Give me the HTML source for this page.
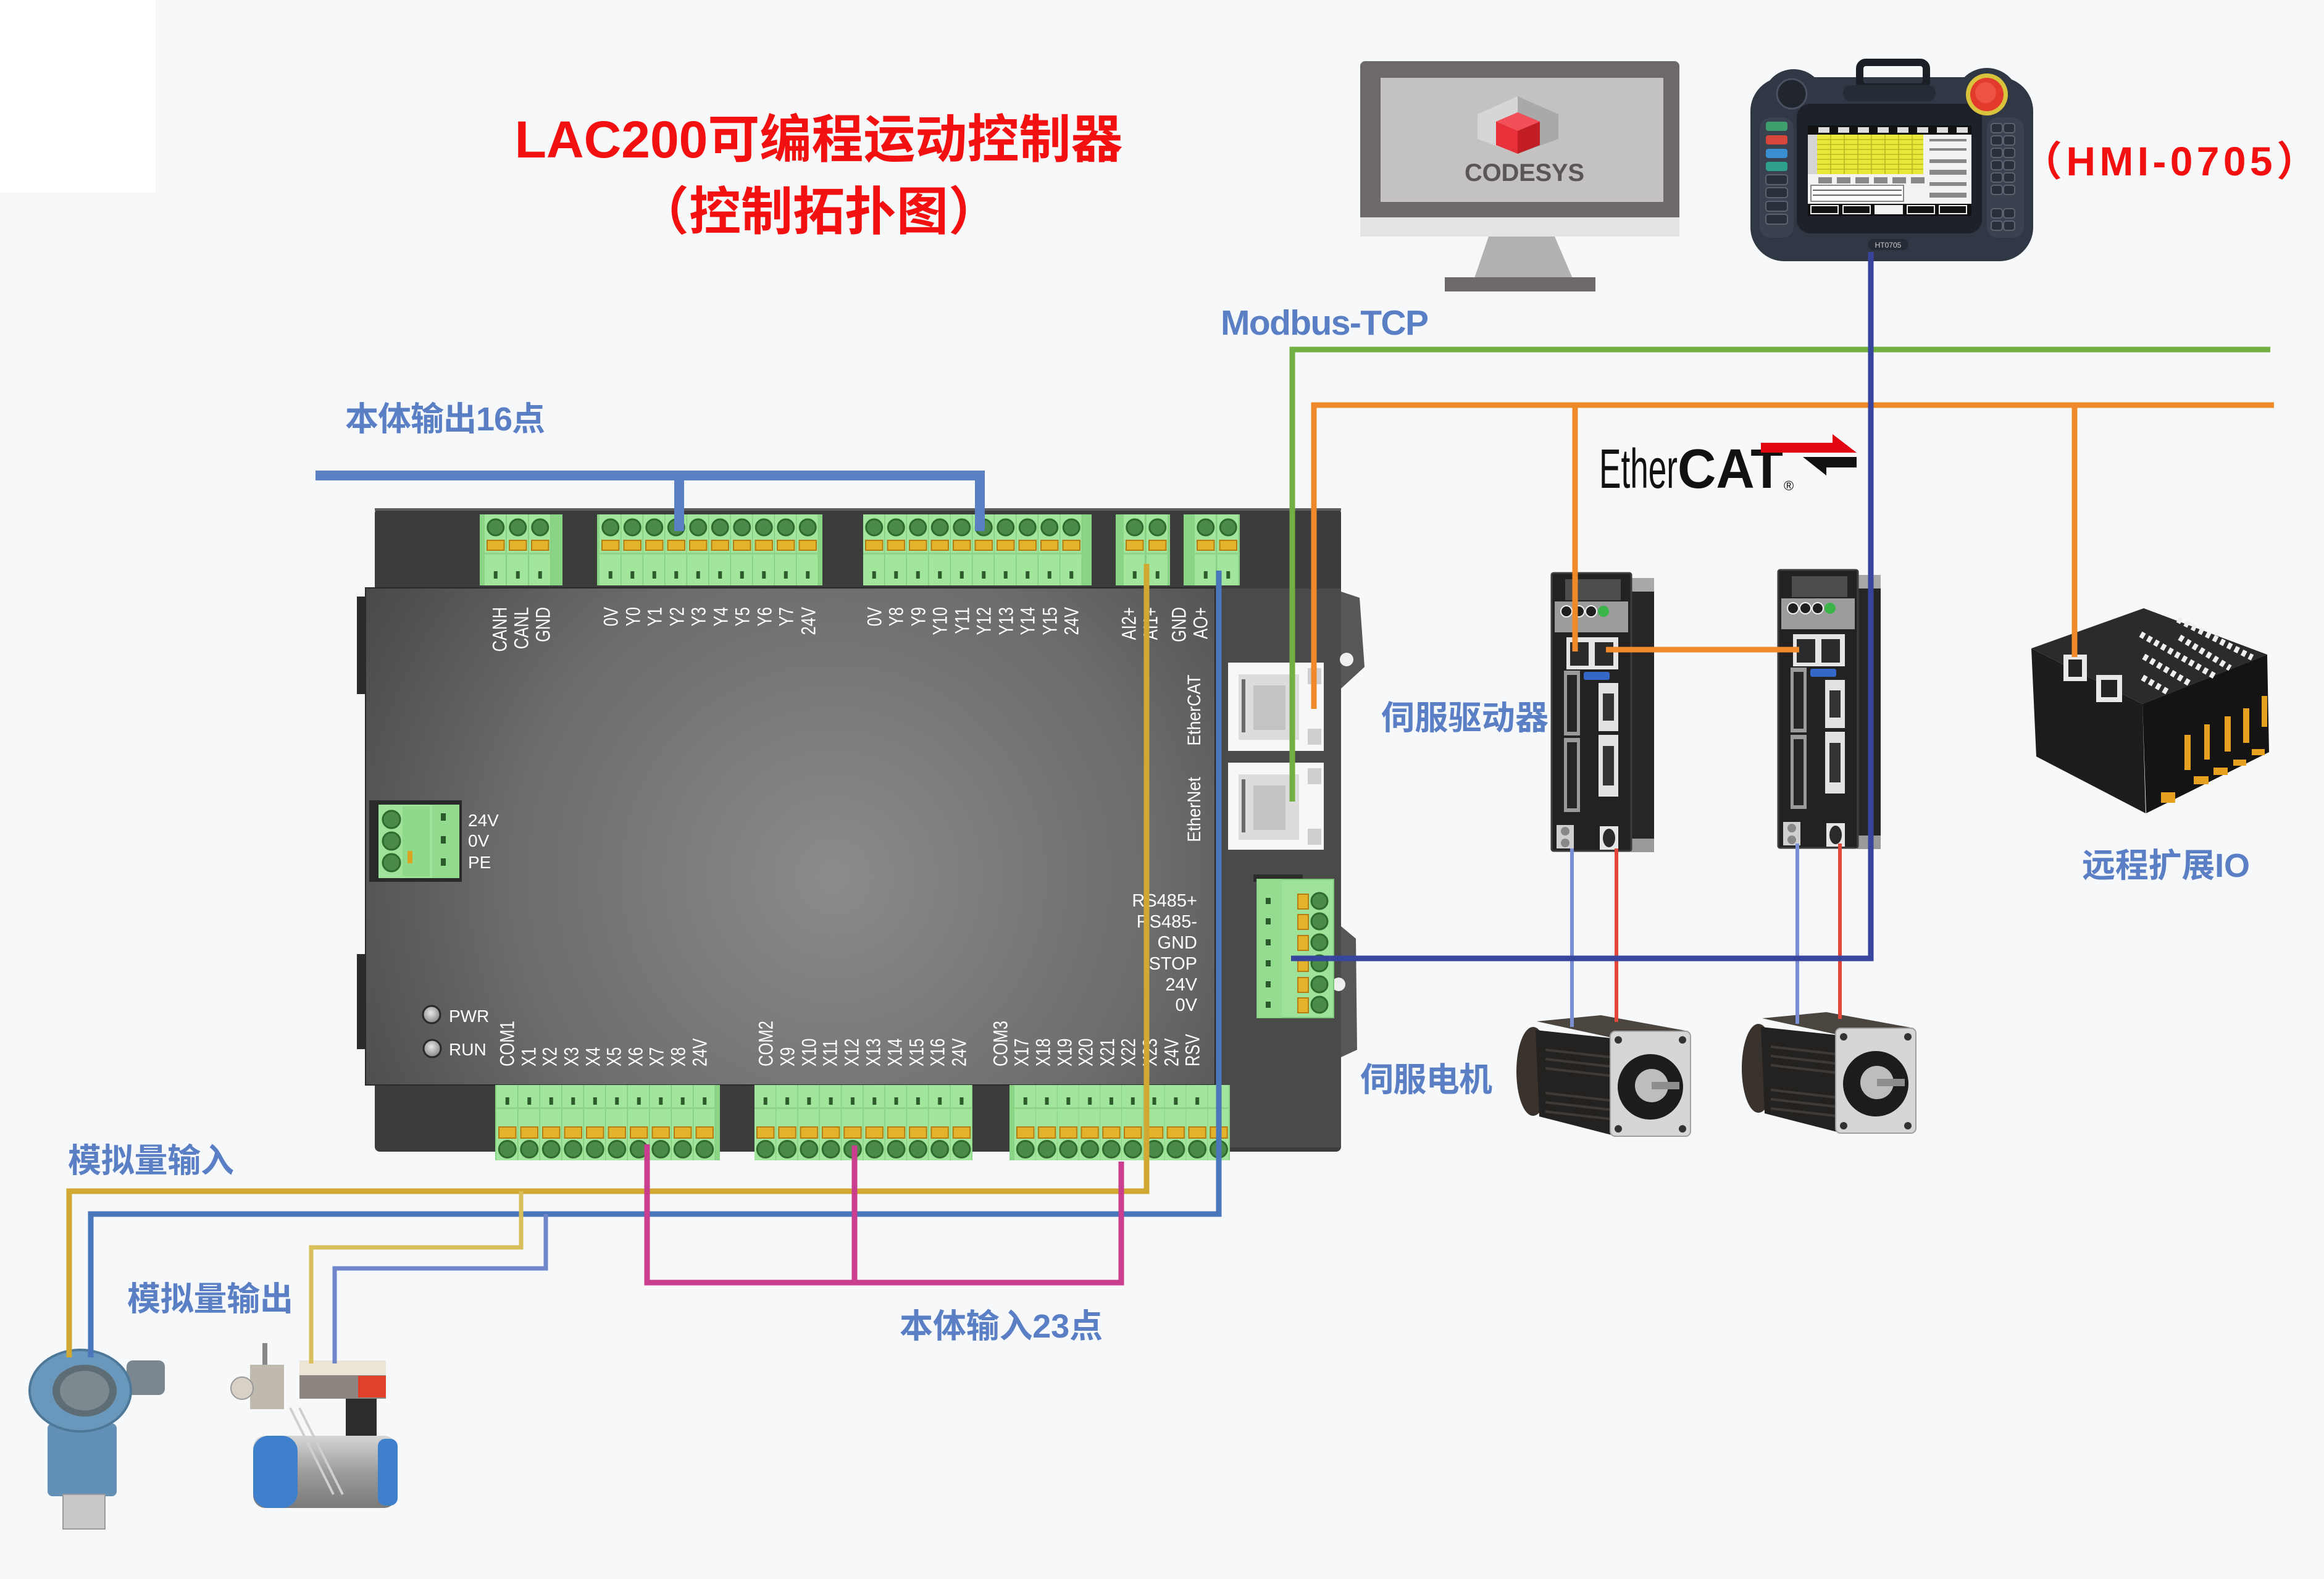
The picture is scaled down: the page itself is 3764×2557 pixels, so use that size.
<!DOCTYPE html>
<html><head><meta charset="utf-8"><style>
html,body{margin:0;padding:0;background:#f6f8fa;overflow:hidden}
svg{display:block}
text{font-family:"Liberation Sans","Noto Sans CJK SC",sans-serif}
</style></head><body>
<svg width="3764" height="2557" viewBox="0 0 3764 2557" xmlns="http://www.w3.org/2000/svg">
<defs>
<radialGradient id="fg" gradientUnits="userSpaceOnUse" cx="1350" cy="1420" r="950">
<stop offset="0" stop-color="#8b8b8b"/><stop offset="0.55" stop-color="#6c6c6c"/><stop offset="1" stop-color="#434343"/>
</radialGradient>
<radialGradient id="led" cx="0.45" cy="0.4" r="0.6"><stop offset="0" stop-color="#e8e8e8"/><stop offset="1" stop-color="#858585"/></radialGradient>
<linearGradient id="act" x1="0" y1="0" x2="0" y2="1"><stop offset="0" stop-color="#d6d6d6"/><stop offset="0.5" stop-color="#9c9c9c"/><stop offset="1" stop-color="#7a7a7a"/></linearGradient>
<g id="tileT">
<rect x="0" y="0" width="35.5" height="115" fill="#a2e59c"/>
<rect x="34" y="0" width="1.5" height="115" fill="#86cd80"/>
<circle cx="17.75" cy="21" r="13" fill="#4b8a48" stroke="#2f6a2e" stroke-width="3"/>
<rect x="4" y="42" width="27.5" height="16" fill="#e2b32b" stroke="#b57d12" stroke-width="2"/>
<rect x="0" y="62" width="35.5" height="3" fill="#8fd489"/>
<rect x="14.75" y="92" width="6" height="12" fill="#2d5b2c"/>
</g>
<g id="tileB">
<rect x="0" y="0" width="35.5" height="122" fill="#a2e59c"/>
<rect x="34" y="0" width="1.5" height="122" fill="#86cd80"/>
<rect x="14.75" y="20" width="6" height="12" fill="#2d5b2c"/>
<rect x="0" y="36" width="35.5" height="3" fill="#8fd489"/>
<rect x="4" y="68" width="27.5" height="18" fill="#e2b32b" stroke="#b57d12" stroke-width="2"/>
<circle cx="17.75" cy="104" r="13.5" fill="#4b8a48" stroke="#2f6a2e" stroke-width="3"/>
</g>
<pattern id="pCAN" patternUnits="userSpaceOnUse" x="785" y="833" width="36" height="115"><use href="#tileT"/></pattern>
<pattern id="pY0" patternUnits="userSpaceOnUse" x="971" y="833" width="35.5" height="115"><use href="#tileT"/></pattern>
<pattern id="pY8" patternUnits="userSpaceOnUse" x="1398" y="833" width="35.5" height="115"><use href="#tileT"/></pattern>
<pattern id="pAI" patternUnits="userSpaceOnUse" x="1820" y="833" width="37" height="115"><use href="#tileT"/></pattern>
<pattern id="pAO" patternUnits="userSpaceOnUse" x="1935" y="833" width="36.5" height="115"><use href="#tileT"/></pattern>
<pattern id="pB1" patternUnits="userSpaceOnUse" x="804" y="1757" width="35.5" height="122"><use href="#tileB"/></pattern>
<pattern id="pB2" patternUnits="userSpaceOnUse" x="1222" y="1757" width="35.3" height="122"><use href="#tileB"/></pattern>
<pattern id="pB3" patternUnits="userSpaceOnUse" x="1643" y="1757" width="34.8" height="122"><use href="#tileB"/></pattern>
<g id="drive">
<rect x="128" y="8" width="38" height="444" fill="#262626"/>
<rect x="128" y="8" width="38" height="22" fill="#a8a8a8"/>
<rect x="128" y="430" width="38" height="22" fill="#9a9a9a"/>
<rect x="0" y="0" width="129" height="450" rx="3" fill="#222" stroke="#3d3d3d" stroke-width="3"/>
<rect x="22" y="10" width="90" height="34" fill="#4d4d4d"/>
<rect x="5" y="46" width="119" height="50" fill="#9c9c9c"/>
<circle cx="24" cy="62" r="9" fill="#1f1f1f" stroke="#eee" stroke-width="2"/>
<circle cx="44" cy="62" r="9" fill="#1f1f1f" stroke="#eee" stroke-width="2"/>
<circle cx="64" cy="62" r="9" fill="#1f1f1f" stroke="#eee" stroke-width="2"/>
<circle cx="84" cy="62" r="9" fill="#3bb54a"/>
<rect x="24" y="104" width="84" height="52" fill="#e6e6e6"/>
<rect x="30" y="112" width="30" height="38" fill="#2b2b2b"/>
<rect x="70" y="112" width="30" height="38" fill="#2b2b2b"/>
<rect x="52" y="160" width="42" height="13" rx="3" fill="#3567c8"/>
<rect x="20" y="158" width="26" height="105" fill="#9a9a9a"/>
<rect x="25" y="165" width="16" height="92" fill="#262626"/>
<rect x="20" y="267" width="26" height="120" fill="#9a9a9a"/>
<rect x="25" y="274" width="16" height="107" fill="#262626"/>
<rect x="76" y="178" width="32" height="78" fill="#e2e2e2"/>
<rect x="83" y="195" width="18" height="44" fill="#333"/>
<rect x="76" y="262" width="32" height="100" fill="#e2e2e2"/>
<rect x="83" y="280" width="18" height="64" fill="#333"/>
<rect x="8" y="408" width="28" height="38" fill="#cfcfcf"/>
<circle cx="22" cy="418" r="7" fill="#888"/><circle cx="22" cy="437" r="7" fill="#888"/>
<rect x="78" y="410" width="30" height="38" fill="#e6e6e6"/>
<ellipse cx="93" cy="429" rx="10" ry="15" fill="#2a2a2a"/>
</g>
<g id="motor">
<ellipse cx="30" cy="95" rx="27" ry="72" fill="#3a332d"/>
<polygon points="36,14 140,4 282,30 165,42" fill="#4a453f"/>
<polygon points="34,28 165,42 165,200 40,168" fill="#242220"/>
<path d="M50,60 L155,72 M50,75 L155,87 M50,90 L155,102 M50,130 L155,142 M50,145 L155,157 M50,160 L155,172" stroke="#3e3a35" stroke-width="4"/>
<rect x="155" y="30" width="130" height="170" rx="8" fill="#d6d6d6" stroke="#a0a0a0" stroke-width="2"/>
<circle cx="220" cy="120" r="53" fill="#1c1c1c"/>
<circle cx="222" cy="118" r="27" fill="#bdbdbd"/>
<rect x="222" y="112" width="45" height="12" fill="#8d8d8d"/>
<circle cx="168" cy="44" r="6" fill="#333"/><circle cx="272" cy="44" r="6" fill="#333"/>
<circle cx="168" cy="188" r="6" fill="#333"/><circle cx="272" cy="188" r="6" fill="#333"/>
</g>
</defs>

<rect x="0" y="0" width="3764" height="2557" fill="#f6f8fa"/>
<rect x="0" y="0" width="252" height="312" fill="#ffffff"/>

<!-- Title -->
<text x="1326" y="255" text-anchor="middle" font-size="84" font-weight="700" fill="#f21010">LAC200可编程运动控制器</text>
<text x="1326" y="372" text-anchor="middle" font-size="84" font-weight="700" fill="#f21010">（控制拓扑图）</text>

<!-- Monitor -->
<rect x="2203" y="99" width="517" height="270" rx="8" fill="#6d6968"/>
<rect x="2203" y="352" width="517" height="31" fill="#e4e4e4"/>
<rect x="2236" y="126" width="458" height="201" fill="#c4c2c1"/>
<polygon points="2411,383 2518,383 2548,453 2387,453" fill="#b3b1b0"/>
<rect x="2340" y="449" width="244" height="23" fill="#6e6a69"/>
<polygon points="2458,156 2524,185 2524,225 2458,249" fill="#a9a9a9"/>
<polygon points="2458,156 2393,185 2393,225 2458,249" fill="#d6d6d6"/>
<polygon points="2458,182 2494,197 2494,235 2458,249" fill="#c21d25"/>
<polygon points="2458,182 2423,197 2423,235 2458,249" fill="#e8303a"/>
<polygon points="2458,182 2494,197 2458,212 2423,197" fill="#f25058"/>
<text x="2372" y="293" font-size="40" font-weight="700" fill="#5a5656" textLength="194">CODESYS</text>

<!-- HMI -->
<circle cx="2905" cy="162" r="50" fill="#303745"/>
<circle cx="3218" cy="162" r="52" fill="#303745"/>
<rect x="2835" y="125" width="458" height="298" rx="55" fill="#303745"/>
<rect x="3012" y="101" width="108" height="40" rx="10" fill="none" stroke="#1b1f26" stroke-width="12"/>
<rect x="2850" y="190" width="55" height="195" rx="18" fill="#3a4250"/>
<rect x="3218" y="190" width="60" height="195" rx="18" fill="#3a4250"/>
<rect x="2985" y="138" width="150" height="26" rx="13" fill="#262c36"/>
<rect x="2910" y="168" width="300" height="210" rx="22" fill="#1d2129"/>
<rect x="2928" y="203" width="265" height="147" fill="#f2f2f2"/>
<rect x="2928" y="203" width="265" height="15" fill="#111"/>
<g fill="#ddd"><rect x="2945" y="206" width="18" height="9"/><rect x="2977" y="206" width="18" height="9"/><rect x="3009" y="206" width="18" height="9"/><rect x="3041" y="206" width="18" height="9"/><rect x="3073" y="206" width="18" height="9"/><rect x="3105" y="206" width="18" height="9"/><rect x="3137" y="206" width="18" height="9"/><rect x="3169" y="206" width="18" height="9"/></g>
<rect x="2943" y="218" width="172" height="64" fill="#e7e838"/>
<path d="M2943,226 H3115 M2943,234 H3115 M2943,242 H3115 M2943,250 H3115 M2943,258 H3115 M2943,266 H3115 M2943,274 H3115 M2965,218 V282 M2987,218 V282 M3009,218 V282 M3031,218 V282 M3053,218 V282 M3075,218 V282 M3097,218 V282" stroke="#b8b820" stroke-width="1.5"/>
<rect x="2928" y="218" width="15" height="64" fill="#d5d5d5"/>
<g fill="#888"><rect x="2945" y="287" width="22" height="10"/><rect x="2975" y="287" width="22" height="10"/><rect x="3005" y="287" width="22" height="10"/><rect x="3035" y="287" width="22" height="10"/><rect x="3065" y="287" width="22" height="10"/><rect x="3095" y="287" width="22" height="10"/>
<rect x="3125" y="225" width="60" height="4"/><rect x="3125" y="240" width="60" height="4"/><rect x="3125" y="258" width="60" height="6"/><rect x="3125" y="275" width="60" height="8"/><rect x="3125" y="295" width="60" height="6"/><rect x="3125" y="312" width="60" height="8"/></g>
<rect x="2933" y="300" width="150" height="26" fill="#fff" stroke="#888" stroke-width="2"/>
<path d="M2936,308 H3080 M2936,316 H3080" stroke="#666" stroke-width="2"/>
<rect x="2928" y="330" width="265" height="20" fill="#111"/>
<g fill="#111" stroke="#eee" stroke-width="2"><rect x="2933" y="333" width="44" height="13"/><rect x="2985" y="333" width="44" height="13"/><rect x="3037" y="333" width="44" height="13" fill="#f2f2f2"/><rect x="3089" y="333" width="44" height="13"/><rect x="3141" y="333" width="44" height="13"/></g>
<circle cx="2902" cy="152" r="24" fill="#20252e" stroke="#4a5160" stroke-width="3"/>
<circle cx="3218" cy="153" r="34" fill="#d9c23c"/>
<circle cx="3218" cy="153" r="27" fill="#e23a2c"/>
<circle cx="3216" cy="150" r="17" fill="#ee5242"/>
<rect x="2860" y="197" width="35" height="15" rx="4" fill="#3f9e6e"/>
<rect x="2860" y="219" width="35" height="15" rx="4" fill="#d8473d"/>
<rect x="2860" y="241" width="35" height="15" rx="4" fill="#3b8fd0"/>
<rect x="2860" y="262" width="35" height="15" rx="4" fill="#2f9f8e"/>
<g fill="#2a303b" stroke="#5a6270" stroke-width="2">
<rect x="2860" y="283" width="35" height="16" rx="4"/><rect x="2860" y="304" width="35" height="16" rx="4"/><rect x="2860" y="326" width="35" height="16" rx="4"/><rect x="2860" y="347" width="35" height="16" rx="4"/>
<rect x="3225" y="200" width="18" height="15" rx="4"/><rect x="3245" y="200" width="18" height="15" rx="4"/>
<rect x="3225" y="220" width="18" height="15" rx="4"/><rect x="3245" y="220" width="18" height="15" rx="4"/>
<rect x="3225" y="240" width="18" height="15" rx="4"/><rect x="3245" y="240" width="18" height="15" rx="4"/>
<rect x="3225" y="260" width="18" height="15" rx="4"/><rect x="3245" y="260" width="18" height="15" rx="4"/>
<rect x="3225" y="280" width="18" height="15" rx="4"/><rect x="3245" y="280" width="18" height="15" rx="4"/>
<rect x="3225" y="300" width="18" height="15" rx="4"/><rect x="3245" y="300" width="18" height="15" rx="4"/>
<rect x="3225" y="338" width="18" height="15" rx="4"/><rect x="3245" y="338" width="18" height="15" rx="4"/>
<rect x="3225" y="358" width="18" height="15" rx="4"/><rect x="3245" y="358" width="18" height="15" rx="4"/>
</g>
<rect x="3025" y="387" width="66" height="18" rx="9" fill="#262c36"/>
<text x="3058" y="401" text-anchor="middle" font-size="12" fill="#cccccc">HT0705</text>
<text x="3274" y="284" font-size="66" font-weight="700" fill="#f21010" textLength="479">（HMI-0705）</text>

<!-- EtherCAT logo -->
<text x="2590" y="790" font-size="90" fill="#111" textLength="127" lengthAdjust="spacingAndGlyphs">Ether</text>
<text x="2717" y="790" font-size="90" font-weight="700" fill="#111" textLength="171" lengthAdjust="spacingAndGlyphs">CAT</text>
<text x="2889" y="794" font-size="22" fill="#111">®</text>
<polygon points="2852,717 2968,717 2968,703 3007,733 2852,733" fill="#e20613"/>
<polygon points="2920,740 3007,740 3007,757 2958,757 2958,770" fill="#111"/>

<!-- Controller -->
<rect x="607" y="823" width="1565" height="1042" rx="8" fill="#3c3c3c"/>
<rect x="607" y="823" width="1565" height="4" fill="#5d5d5d"/>
<rect x="1968" y="953" width="204" height="905" fill="#4a4a4a"/>
<polygon points="2172,958 2202,968 2210,1080 2172,1115" fill="#575757"/>
<circle cx="2181" cy="1068" r="11" fill="#f0f0f0"/>
<polygon points="2172,1500 2196,1520 2198,1700 2172,1712" fill="#575757"/>
<circle cx="2168" cy="1594" r="11" fill="#eeeeee"/>
<rect x="578" y="966" width="16" height="158" fill="#2c2c2c"/>
<rect x="578" y="1545" width="16" height="154" fill="#2c2c2c"/>
<rect x="592" y="952" width="1376" height="805" fill="url(#fg)" stroke="#2a2a2a" stroke-width="2"/>

<!-- top terminals -->
<rect x="777" y="833" width="134" height="115" fill="#8ad485"/>
<rect x="785" y="833" width="108" height="115" fill="url(#pCAN)"/>
<rect x="967" y="833" width="365" height="115" fill="#8ad485"/>
<rect x="971" y="833" width="355" height="115" fill="url(#pY0)"/>
<rect x="1398" y="833" width="370" height="115" fill="#8ad485"/>
<rect x="1398" y="833" width="355" height="115" fill="url(#pY8)"/>
<rect x="1807" y="833" width="88" height="115" fill="#8ad485"/>
<rect x="1820" y="833" width="74" height="115" fill="url(#pAI)"/>
<rect x="1917" y="833" width="91" height="115" fill="#8ad485"/>
<rect x="1935" y="833" width="73" height="115" fill="url(#pAO)"/>

<!-- bottom terminals -->
<rect x="802" y="1757" width="364" height="122" fill="#8ad485"/>
<rect x="804" y="1757" width="355" height="122" fill="url(#pB1)"/>
<rect x="1222" y="1757" width="353" height="122" fill="#8ad485"/>
<rect x="1222" y="1757" width="353" height="122" fill="url(#pB2)"/>
<rect x="1635" y="1757" width="357" height="122" fill="#8ad485"/>
<rect x="1643" y="1757" width="348" height="122" fill="url(#pB3)"/>

<!-- power terminal -->
<rect x="598" y="1296" width="150" height="132" fill="#2a2a2a"/>
<rect x="613" y="1303" width="131" height="119" fill="#9fe39a"/>
<rect x="652" y="1306" width="44" height="113" fill="#8fd98a"/>
<rect x="700" y="1303" width="44" height="119" fill="#92da8d"/>
<g fill="#4b8a48" stroke="#2f6a2e" stroke-width="3"><circle cx="634" cy="1327" r="14"/><circle cx="634" cy="1362" r="14"/><circle cx="634" cy="1397" r="14"/></g>
<g fill="#2d5a2d"><rect x="714" y="1317" width="8" height="12"/><rect x="714" y="1354" width="8" height="12"/><rect x="714" y="1390" width="8" height="12"/></g>
<rect x="660" y="1378" width="8" height="20" fill="#d9a520"/>

<!-- ports -->
<rect x="1989" y="1073" width="155" height="143" fill="#f7f7f7"/>
<rect x="2006" y="1092" width="98" height="106" fill="#dcdcdc"/>
<rect x="2030" y="1110" width="52" height="72" fill="#c3c3c3"/>
<rect x="2011" y="1100" width="6" height="86" fill="#6a6a6a"/>
<rect x="2118" y="1082" width="22" height="26" fill="#cfcfcf"/>
<rect x="2118" y="1180" width="22" height="26" fill="#cfcfcf"/>
<rect x="1989" y="1235" width="155" height="141" fill="#f7f7f7"/>
<rect x="2006" y="1254" width="98" height="106" fill="#dcdcdc"/>
<rect x="2030" y="1272" width="52" height="72" fill="#c3c3c3"/>
<rect x="2011" y="1262" width="6" height="86" fill="#6a6a6a"/>
<rect x="2118" y="1244" width="22" height="26" fill="#cfcfcf"/>
<rect x="2118" y="1342" width="22" height="26" fill="#cfcfcf"/>

<!-- RS485 terminal -->
<rect x="2030" y="1416" width="80" height="12" fill="#2c2c2c"/>
<rect x="2036" y="1424" width="124" height="224" fill="#9fe39a" stroke="#7cc778" stroke-width="2"/>
<rect x="2036" y="1424" width="40" height="224" fill="#94dc8f"/>
<g fill="#2d5a2d"><rect x="2050" y="1454" width="8" height="10"/><rect x="2050" y="1487" width="8" height="10"/><rect x="2050" y="1521" width="8" height="10"/><rect x="2050" y="1555" width="8" height="10"/><rect x="2050" y="1589" width="8" height="10"/><rect x="2050" y="1622" width="8" height="10"/></g>
<g fill="#e2b32b" stroke="#b57d12" stroke-width="2"><rect x="2102" y="1448" width="17" height="24"/><rect x="2102" y="1481" width="17" height="24"/><rect x="2102" y="1515" width="17" height="24"/><rect x="2102" y="1549" width="17" height="24"/><rect x="2102" y="1583" width="17" height="24"/><rect x="2102" y="1616" width="17" height="24"/></g>
<g fill="#4b8a48" stroke="#2f6a2e" stroke-width="3"><circle cx="2137" cy="1459" r="13"/><circle cx="2137" cy="1492" r="13"/><circle cx="2137" cy="1526" r="13"/><circle cx="2137" cy="1560" r="13"/><circle cx="2137" cy="1594" r="13"/><circle cx="2137" cy="1627" r="13"/></g>

<!-- LEDs -->
<circle cx="699" cy="1643" r="14" fill="url(#led)" stroke="#2a2a2a" stroke-width="3"/>
<circle cx="700" cy="1698" r="14" fill="url(#led)" stroke="#2a2a2a" stroke-width="3"/>

<!-- controller labels -->
<g fill="#ffffff" font-size="28">
<text x="758" y="1338">24V</text>
<text x="758" y="1371">0V</text>
<text x="758" y="1406">PE</text>
<text x="727" y="1655">PWR</text>
<text x="727" y="1709">RUN</text>
</g>
<g fill="#ffffff" font-size="29" text-anchor="end">
<text x="1939" y="1468">RS485+</text>
<text x="1939" y="1502">RS485-</text>
<text x="1939" y="1536">GND</text>
<text x="1939" y="1570">STOP</text>
<text x="1939" y="1604">24V</text>
<text x="1939" y="1637">0V</text>
</g>
<g fill="#ffffff" font-size="30" text-anchor="middle">
<text transform="translate(1944,1150) rotate(-90) scale(0.89,1)">EtherCAT</text>
<text transform="translate(1944,1311) rotate(-90) scale(0.89,1)">EtherNet</text>
</g>
<g fill="#ffffff" font-size="32" text-anchor="end">
<text transform="translate(820.5,983) rotate(-90) scale(0.8,1)">CANH</text>
<text transform="translate(855.5,983) rotate(-90) scale(0.8,1)">CANL</text>
<text transform="translate(890.5,983) rotate(-90) scale(0.8,1)">GND</text>
<text transform="translate(1000.5,983) rotate(-90) scale(0.8,1)">0V</text>
<text transform="translate(1036.5,983) rotate(-90) scale(0.8,1)">Y0</text>
<text transform="translate(1071.5,983) rotate(-90) scale(0.8,1)">Y1</text>
<text transform="translate(1107.5,983) rotate(-90) scale(0.8,1)">Y2</text>
<text transform="translate(1142.5,983) rotate(-90) scale(0.8,1)">Y3</text>
<text transform="translate(1178.5,983) rotate(-90) scale(0.8,1)">Y4</text>
<text transform="translate(1213.5,983) rotate(-90) scale(0.8,1)">Y5</text>
<text transform="translate(1249.5,983) rotate(-90) scale(0.8,1)">Y6</text>
<text transform="translate(1284.5,983) rotate(-90) scale(0.8,1)">Y7</text>
<text transform="translate(1320.5,983) rotate(-90) scale(0.8,1)">24V</text>
<text transform="translate(1427.5,983) rotate(-90) scale(0.8,1)">0V</text>
<text transform="translate(1462.5,983) rotate(-90) scale(0.8,1)">Y8</text>
<text transform="translate(1498.5,983) rotate(-90) scale(0.8,1)">Y9</text>
<text transform="translate(1533.5,983) rotate(-90) scale(0.8,1)">Y10</text>
<text transform="translate(1569.5,983) rotate(-90) scale(0.8,1)">Y11</text>
<text transform="translate(1604.5,983) rotate(-90) scale(0.8,1)">Y12</text>
<text transform="translate(1640.5,983) rotate(-90) scale(0.8,1)">Y13</text>
<text transform="translate(1675.5,983) rotate(-90) scale(0.8,1)">Y14</text>
<text transform="translate(1711.5,983) rotate(-90) scale(0.8,1)">Y15</text>
<text transform="translate(1746.5,983) rotate(-90) scale(0.8,1)">24V</text>
<text transform="translate(1839.5,983) rotate(-90) scale(0.8,1)">AI2+</text>
<text transform="translate(1874.5,983) rotate(-90) scale(0.8,1)">AI1+</text>
<text transform="translate(1920.5,983) rotate(-90) scale(0.8,1)">GND</text>
<text transform="translate(1955.5,983) rotate(-90) scale(0.8,1)">AO+</text>
</g>
<g fill="#ffffff" font-size="32" text-anchor="start">
<text transform="translate(832.5,1727) rotate(-90) scale(0.8,1)">COM1</text>
<text transform="translate(867.5,1727) rotate(-90) scale(0.8,1)">X1</text>
<text transform="translate(901.5,1727) rotate(-90) scale(0.8,1)">X2</text>
<text transform="translate(936.5,1727) rotate(-90) scale(0.8,1)">X3</text>
<text transform="translate(971.5,1727) rotate(-90) scale(0.8,1)">X4</text>
<text transform="translate(1005.5,1727) rotate(-90) scale(0.8,1)">X5</text>
<text transform="translate(1040.5,1727) rotate(-90) scale(0.8,1)">X6</text>
<text transform="translate(1074.5,1727) rotate(-90) scale(0.8,1)">X7</text>
<text transform="translate(1109.5,1727) rotate(-90) scale(0.8,1)">X8</text>
<text transform="translate(1144.5,1727) rotate(-90) scale(0.8,1)">24V</text>
<text transform="translate(1251.5,1727) rotate(-90) scale(0.8,1)">COM2</text>
<text transform="translate(1286.5,1727) rotate(-90) scale(0.8,1)">X9</text>
<text transform="translate(1321.5,1727) rotate(-90) scale(0.8,1)">X10</text>
<text transform="translate(1355.5,1727) rotate(-90) scale(0.8,1)">X11</text>
<text transform="translate(1390.5,1727) rotate(-90) scale(0.8,1)">X12</text>
<text transform="translate(1425.5,1727) rotate(-90) scale(0.8,1)">X13</text>
<text transform="translate(1460.5,1727) rotate(-90) scale(0.8,1)">X14</text>
<text transform="translate(1495.5,1727) rotate(-90) scale(0.8,1)">X15</text>
<text transform="translate(1529.5,1727) rotate(-90) scale(0.8,1)">X16</text>
<text transform="translate(1564.5,1727) rotate(-90) scale(0.8,1)">24V</text>
<text transform="translate(1631.5,1727) rotate(-90) scale(0.8,1)">COM3</text>
<text transform="translate(1665.5,1727) rotate(-90) scale(0.8,1)">X17</text>
<text transform="translate(1700.5,1727) rotate(-90) scale(0.8,1)">X18</text>
<text transform="translate(1735.5,1727) rotate(-90) scale(0.8,1)">X19</text>
<text transform="translate(1769.5,1727) rotate(-90) scale(0.8,1)">X20</text>
<text transform="translate(1804.5,1727) rotate(-90) scale(0.8,1)">X21</text>
<text transform="translate(1838.5,1727) rotate(-90) scale(0.8,1)">X22</text>
<text transform="translate(1873.5,1727) rotate(-90) scale(0.8,1)">X23</text>
<text transform="translate(1908.5,1727) rotate(-90) scale(0.8,1)">24V</text>
<text transform="translate(1942.5,1727) rotate(-90) scale(0.8,1)">RSV</text>
</g>

<!-- Servo drives -->
<use href="#drive" x="2513" y="928"/>
<use href="#drive" x="2880" y="923"/>

<!-- Motors -->
<use href="#motor" x="2453" y="1640"/>
<use href="#motor" x="2818" y="1635"/>

<!-- Remote IO -->
<polygon points="3290,1050 3470,1140 3475,1317 3298,1225" fill="#1d1d1d"/>
<polygon points="3290,1050 3472,985 3672,1060 3470,1140" fill="#2b2b2b"/>
<polygon points="3470,1140 3672,1060 3675,1218 3476,1317" fill="#141414"/>
<g stroke="#eeeeee" stroke-width="10" stroke-dasharray="7 6">
<line x1="3527" y1="1003" x2="3648" y2="1065"/>
<line x1="3530" y1="1032" x2="3612" y2="1082"/>
<line x1="3467" y1="1027" x2="3587" y2="1095"/>
<line x1="3472" y1="1063" x2="3547" y2="1107"/>
<line x1="3470" y1="1097" x2="3515" y2="1123"/>
</g>
<rect x="3342" y="1060" width="38" height="43" fill="#e8e8e8"/>
<rect x="3350" y="1068" width="22" height="28" fill="#222"/>
<rect x="3395" y="1093" width="42" height="44" fill="#e8e8e8"/>
<rect x="3403" y="1101" width="26" height="28" fill="#222"/>
<g fill="#e8a020">
<rect x="3538" y="1190" width="10" height="57"/><rect x="3570" y="1173" width="9" height="57"/><rect x="3603" y="1160" width="10" height="57"/><rect x="3633" y="1147" width="10" height="56"/><rect x="3663" y="1127" width="9" height="50"/>
<rect x="3500" y="1283" width="23" height="17"/><rect x="3553" y="1257" width="24" height="13"/><rect x="3585" y="1243" width="23" height="12"/><rect x="3617" y="1230" width="21" height="10"/><rect x="3647" y="1213" width="21" height="10"/>
</g>

<!-- Transmitter -->
<rect x="205" y="2203" width="62" height="56" rx="10" fill="#7a8690"/>
<rect x="77" y="2305" width="112" height="118" rx="8" fill="#6390b6"/>
<ellipse cx="130" cy="2252" rx="82" ry="66" fill="#6a98bd" stroke="#4d7898" stroke-width="4"/>
<ellipse cx="137" cy="2252" rx="52" ry="42" fill="#5e6d75"/>
<ellipse cx="137" cy="2252" rx="40" ry="32" fill="#7c8a90"/>
<rect x="102" y="2420" width="68" height="56" fill="#c9c9c9" stroke="#9a9a9a" stroke-width="2"/>

<!-- Valve -->
<rect x="425" y="2175" width="8" height="40" fill="#888"/>
<rect x="405" y="2210" width="55" height="72" fill="#bfb9ae"/>
<circle cx="392" cy="2248" r="18" fill="#d8d2c6" stroke="#999" stroke-width="2"/>
<rect x="560" y="2262" width="50" height="68" fill="#2d2d2d"/>
<rect x="485" y="2203" width="140" height="62" fill="#8d8580"/>
<rect x="485" y="2203" width="140" height="24" fill="#ece4d6"/>
<rect x="580" y="2228" width="45" height="35" fill="#e0412a"/>
<rect x="410" y="2325" width="232" height="117" rx="20" fill="url(#act)"/>
<rect x="410" y="2325" width="72" height="117" rx="25" fill="#3f80cc"/>
<rect x="612" y="2330" width="32" height="108" rx="12" fill="#3f80cc"/>
<path d="M470,2280 L540,2420 M485,2280 L555,2420" stroke="#cfcfcf" stroke-width="4"/>

<!-- Connectors / lines -->
<g fill="none" stroke-linecap="butt" stroke-linejoin="miter">
<path d="M511,770 H1595 M1100,770 V860 M1587,770 V860" stroke="#5b7fc3" stroke-width="16"/>
<path d="M3677,566 H2093 V1298" stroke="#72b043" stroke-width="9"/>
<path d="M3683,656 H2128 V1148 M2551,656 V1055 M3360,656 V1064 M2601,1052 H2914" stroke="#ef8a2b" stroke-width="9"/>
<path d="M1857,913 V1929 H112 V2198" stroke="#d1a832" stroke-width="9"/>
<path d="M1974,924 V1966 H147 V2198" stroke="#4a77bb" stroke-width="9"/>
<path d="M844,1929 V2020 H504 V2208" stroke="#d8bf5a" stroke-width="7"/>
<path d="M884,1966 V2054 H542 V2208" stroke="#6f86c9" stroke-width="7"/>
<path d="M1048,1853 V2077 H1816 V1881 M1384,1855 V2077" stroke="#c93e8f" stroke-width="9"/>
<path d="M2546,1374 V1663 M2911,1366 V1658" stroke="#7b8fd4" stroke-width="6"/>
<path d="M2618,1374 V1655 M2980,1366 V1650" stroke="#e2483a" stroke-width="6"/>
<path d="M3030,408 V1552 H2091" stroke="#37469c" stroke-width="9"/>
</g>

<!-- Blue labels -->
<g fill="#5a7fc5" font-size="54" font-weight="700">
<text x="559" y="697" textLength="324">本体输出16点</text>
<text x="1977" y="542" font-size="57" textLength="337">Modbus-TCP</text>
<text x="2237" y="1181" textLength="271">伺服驱动器</text>
<text x="2203" y="1767" textLength="214">伺服电机</text>
<text x="3372" y="1420" textLength="272">远程扩展IO</text>
<text x="110" y="1898" textLength="269">模拟量输入</text>
<text x="206" y="2122" textLength="269">模拟量输出</text>
<text x="1457" y="2166" textLength="329">本体输入23点</text>
</g>
</svg>
</body></html>
